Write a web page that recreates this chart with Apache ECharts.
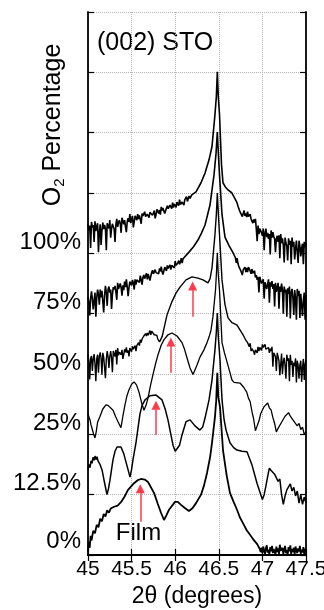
<!DOCTYPE html>
<html><head><meta charset="utf-8">
<script src="https://cdn.jsdelivr.net/npm/echarts/dist/echarts.min.js"></script>
<style>html,body{margin:0;padding:0;background:#fff}#c{width:324px;height:610px}</style>
</head><body><div id="c"></div>
<script>
const xTickLabels = ['45','45.5','46','46.5','47','47.5'];
const yTickLabels = ['0%','12.5%','25%','50%','75%','100%'];
const seriesNames = ['0%','12.5%','25%','50%','75%','100%'];

const s0 = [[45.00,0.06],[45.01,0.22],[45.02,0.12],[45.03,0.32],[45.04,0.24],[45.06,0.40],[45.08,0.36],[45.10,0.50],[45.12,0.46],[45.14,0.60],[45.16,0.56],[45.18,0.68],[45.20,0.64],[45.22,0.74],[45.24,0.70],[45.26,0.77],[45.28,0.74],[45.30,0.80],[45.32,0.77],[45.34,0.82],[45.36,0.82],[45.38,0.88],
[45.42,0.97],[45.459,1.08],[45.528,1.19],[45.57,1.24],[45.608,1.26],[45.65,1.25],[45.688,1.21],[45.757,1.03],[45.80,0.85],[45.837,0.70],[45.872,0.58],[45.90,0.66],[45.929,0.75],[45.998,0.88],[46.03,0.88],[46.067,0.83],[46.11,0.78],[46.158,0.73],[46.20,0.78],[46.239,0.86],[46.296,1.00],[46.33,1.15],[46.365,1.36],[46.40,1.62],[46.422,1.86],[46.456,2.29],[46.47,2.55],[46.483,3.02],[46.494,2.62],[46.514,2.45],[46.548,1.74],[46.59,1.32],[46.628,1.03],[46.67,0.88],[46.709,0.75],
[46.72,0.72],[46.74,0.63],[46.76,0.61],[46.78,0.52],[46.80,0.49],[46.82,0.41],[46.84,0.40],[46.86,0.33],[46.88,0.32],[46.90,0.25],[46.92,0.24],[46.94,0.18],
[46.96,0.18],[46.97,0.10],[46.98,0.05],[46.99,0.12],[47.00,0.03],[47.01,0.14],[47.02,0.07],[47.03,0.02],[47.04,0.11],[47.05,0.16],[47.06,0.04],[47.07,0.09],[47.08,0.01],[47.09,0.13],[47.10,0.06],[47.11,0.15],[47.12,0.03],[47.13,0.10],[47.14,0.08],[47.15,0.01],[47.16,0.14],[47.17,0.05],[47.18,0.11],[47.19,0.02],[47.20,0.17],[47.21,0.07],[47.22,0.04],[47.23,0.12],[47.24,0.02],[47.25,0.09],[47.26,0.15],[47.27,0.03],[47.28,0.08],[47.29,0.01],[47.30,0.13],[47.31,0.06],[47.32,0.16],[47.33,0.02],[47.34,0.10],[47.35,0.05],[47.36,0.12],[47.37,0.01],[47.38,0.14],[47.39,0.07],[47.40,0.03],[47.41,0.11],[47.42,0.06],[47.43,0.15],[47.44,0.02],[47.45,0.09],[47.46,0.04],[47.47,0.13],[47.48,0.01],[47.49,0.10],[47.50,0.05]];

const s1 = [[45.000,1.41],[45.012,1.50],[45.023,1.45],[45.035,1.56],[45.046,1.52],[45.058,1.62],[45.070,1.57],[45.081,1.64],[45.092,1.58],[45.103,1.63],[45.115,1.56],[45.127,1.58],[45.138,1.50],[45.150,1.48],[45.161,1.41],[45.195,1.16],[45.218,1.00],[45.235,1.10],[45.252,1.24],[45.287,1.58],[45.310,1.72],[45.333,1.79],[45.355,1.81],[45.378,1.79],[45.410,1.68],[45.436,1.54],[45.482,1.29],[45.500,1.42],[45.516,1.58],[45.550,1.86],[45.575,2.12],[45.596,2.34],[45.620,2.48],[45.654,2.57],[45.711,2.64],[45.780,2.65],[45.849,2.57],[45.885,2.42],[45.917,2.24],[45.950,2.00],[45.975,1.82],[46.000,1.72],[46.021,1.69],[46.050,1.82],[46.078,1.99],[46.124,2.21],[46.170,2.24],[46.227,2.14],[46.284,2.07],[46.315,2.12],[46.342,2.27],[46.388,2.57],[46.422,2.90],[46.456,3.40],[46.472,3.70],[46.483,4.01],[46.495,3.60],[46.514,3.23],[46.537,2.57],[46.560,2.25],[46.583,2.07],[46.628,1.86],[46.670,1.78],[46.709,1.74],[46.766,1.72],[46.823,1.71],[46.881,1.49],[46.938,1.19],[46.972,1.04],
[47.00,0.92],[47.02,1.00],[47.04,1.14],[47.06,1.30],[47.08,1.44],[47.10,1.40],[47.12,1.42],[47.14,1.34],[47.16,1.36],[47.18,1.22],[47.20,1.26],[47.22,1.00],[47.24,0.84],[47.26,0.98],[47.28,1.08],[47.30,1.06],[47.32,1.18],[47.34,1.06],[47.36,1.12],[47.38,0.98],[47.40,1.06],[47.42,0.86],[47.44,1.00],[47.46,0.84],[47.48,0.96],[47.50,0.86]];

const s2 = [[45.000,2.35],[45.012,2.28],[45.023,2.24],[45.034,2.16],[45.050,2.08],[45.065,2.00],[45.080,1.94],[45.095,2.05],[45.110,2.20],[45.138,2.30],[45.170,2.42],[45.206,2.49],[45.230,2.48],[45.252,2.45],[45.287,2.40],[45.315,2.30],[45.344,2.21],[45.378,2.11],[45.400,2.30],[45.424,2.49],[45.447,2.64],[45.470,2.74],[45.500,2.83],[45.528,2.87],[45.556,2.82],[45.585,2.70],[45.615,2.52],[45.642,2.40],[45.665,2.48],[45.688,2.60],[45.715,2.80],[45.745,2.99],[45.775,3.17],[45.803,3.32],[45.840,3.48],[45.872,3.57],[45.917,3.65],[45.963,3.68],[46.021,3.63],[46.078,3.52],[46.105,3.42],[46.135,3.27],[46.170,3.10],[46.204,2.99],[46.230,3.08],[46.250,3.15],[46.284,3.28],[46.330,3.40],[46.365,3.52],[46.390,3.62],[46.411,3.73],[46.433,3.95],[46.462,4.39],[46.474,4.70],[46.483,5.01],[46.494,4.65],[46.508,4.39],[46.537,3.52],[46.565,3.35],[46.594,3.20],[46.625,3.04],[46.651,2.90],[46.675,2.86],[46.697,2.85],[46.743,2.85],[46.785,2.78],
[46.82,2.70],[46.84,2.60],[46.86,2.54],[46.88,2.38],[46.90,2.25],[46.92,2.06],[46.94,2.14],[46.96,2.22],[46.98,2.34],[47.00,2.36],[47.02,2.46],[47.04,2.46],[47.06,2.52],[47.08,2.44],[47.10,2.40],[47.12,2.28],[47.14,2.18],[47.16,2.04],[47.18,2.10],[47.20,2.12],[47.22,2.20],[47.24,2.22],[47.26,2.30],[47.28,2.28],[47.30,2.36],[47.32,2.30],[47.34,2.30],[47.36,2.22],[47.38,2.22],[47.40,2.14],[47.42,2.18],[47.44,2.08],[47.46,2.12],[47.48,2.00],[47.50,2.04]];

const s3 = [[45.00,3.32],[45.01,3.20],[45.02,2.91],[45.03,3.26],[45.04,3.30],[45.05,3.05],[45.06,3.25],[45.07,3.33],[45.08,3.17],[45.09,2.88],[45.10,3.25],[45.11,3.32],[45.12,3.02],[45.13,3.29],[45.14,3.36],[45.15,3.26],[45.16,2.99],[45.17,3.35],[45.18,3.28],[45.19,3.30],[45.20,2.93],[45.21,3.24],[45.22,3.38],[45.23,3.29],[45.24,3.10],[45.25,3.29],[45.26,3.38],[45.27,3.27],[45.28,3.03],[45.29,3.38],[45.30,3.35],[45.31,3.29],[45.32,3.40],[45.33,3.16],[45.34,3.43],[45.35,3.31],
[45.36,3.36],[45.37,3.39],[45.38,3.32],[45.39,3.40],[45.40,3.25],[45.41,3.32],[45.42,3.41],[45.43,3.36],[45.44,3.44],[45.45,3.35],[45.46,3.39],[45.47,3.29],[45.48,3.43],[45.49,3.42],[45.50,3.37],[45.51,3.46],[45.52,3.41],[45.53,3.39],[45.54,3.47],[45.55,3.38],[45.56,3.47],[45.57,3.47],[45.58,3.52],[45.59,3.47],[45.60,3.57],
[45.61,3.52],[45.62,3.58],[45.63,3.55],[45.64,3.63],[45.65,3.61],[45.66,3.67],[45.67,3.63],[45.68,3.68],[45.69,3.64],[45.70,3.68],[45.71,3.72],[45.72,3.65],[45.73,3.71],[45.74,3.68],[45.75,3.73],[45.76,3.65],[45.77,3.68],[45.78,3.63],[45.79,3.64],[45.80,3.58],[45.81,3.59],[45.82,3.53],[45.835,3.54],[45.85,3.62],
[45.860,3.68],[45.906,3.98],[45.963,4.20],[46.009,4.34],[46.055,4.44],[46.124,4.56],[46.193,4.61],[46.261,4.59],[46.319,4.56],[46.376,4.51],[46.40,4.58],[46.422,4.76],[46.456,5.31],[46.472,5.65],[46.483,6.00],[46.495,5.65],[46.508,5.31],[46.537,4.56],[46.571,4.15],[46.606,3.93],[46.651,3.85],[46.709,3.81],[46.778,3.65],[46.81,3.56],
[46.83,3.52],[46.84,3.52],[46.85,3.45],[46.86,3.51],[46.87,3.38],[46.88,3.42],[46.89,3.44],[46.90,3.37],[46.91,3.32],[46.92,3.40],[46.93,3.39],[46.94,3.35],[46.95,3.45],[46.96,3.38],[46.97,3.44],[46.98,3.42],[46.99,3.39],[47.00,3.49],[47.01,3.44],[47.02,3.41],[47.03,3.49],[47.04,3.41],[47.05,3.38],[47.06,3.43],[47.07,3.44],[47.08,3.35],[47.09,3.42],[47.10,3.38],
[47.11,3.45],[47.12,3.12],[47.13,3.35],[47.14,3.38],[47.15,3.29],[47.16,3.05],[47.17,3.35],[47.18,3.33],[47.19,3.22],[47.20,2.98],[47.21,3.16],[47.22,3.34],[47.23,3.00],[47.24,3.20],[47.25,3.27],[47.26,3.14],[47.27,2.92],[47.28,3.32],[47.29,3.22],[47.30,3.26],[47.31,2.88],[47.32,3.32],[47.33,3.15],[47.34,3.22],[47.35,2.95],[47.36,3.19],[47.37,3.13],[47.38,3.26],[47.39,2.86],[47.40,3.22],[47.41,3.14],[47.42,2.92],[47.43,3.15],[47.44,3.22],[47.45,2.87],[47.46,3.11],[47.47,3.25],[47.48,2.90],[47.49,3.17],[47.50,3.23]];

const s4 = [[45.00,4.28],[45.01,4.19],[45.02,3.97],[45.03,4.25],[45.04,4.37],[45.05,4.25],[45.06,4.07],[45.07,4.21],[45.08,4.35],[45.09,3.95],[45.10,4.26],[45.11,4.40],[45.12,4.32],[45.13,4.15],[45.14,4.40],[45.15,4.27],[45.16,4.38],[45.17,4.36],[45.18,4.02],[45.19,4.31],[45.20,4.46],[45.21,4.35],[45.22,4.13],[45.23,4.40],[45.24,4.45],[45.25,4.35],[45.26,4.40],[45.27,4.08],[45.28,4.32],[45.29,4.44],[45.30,4.40],[45.31,4.46],[45.32,4.36],[45.33,4.23],[45.34,4.51],[45.35,4.41],[45.36,4.40],[45.37,4.50],[45.38,4.43],[45.39,4.30],[45.40,4.47],[45.41,4.39],[45.42,4.53],[45.43,4.44],[45.44,4.57],[45.45,4.44],
[45.46,4.29],[45.47,4.43],[45.48,4.53],[45.49,4.52],[45.50,4.47],[45.51,4.56],[45.52,4.51],[45.53,4.40],[45.54,4.57],[45.55,4.48],[45.56,4.56],[45.57,4.55],[45.58,4.58],[45.59,4.52],[45.60,4.63],[45.61,4.56],[45.62,4.48],[45.63,4.60],[45.64,4.64],[45.65,4.58],[45.66,4.61],[45.67,4.67],[45.68,4.57],[45.69,4.66],[45.70,4.63],[45.71,4.55],[45.72,4.62],[45.73,4.68],[45.74,4.72],[45.75,4.66],[45.76,4.65],[45.77,4.73],[45.78,4.68],[45.79,4.70],[45.80,4.71],[45.81,4.66],[45.82,4.75],[45.83,4.70],[45.84,4.78],[45.85,4.69],[45.86,4.65],[45.87,4.67],[45.88,4.77],[45.89,4.76],[45.90,4.71],[45.91,4.80],[45.92,4.75],[45.93,4.73],[45.94,4.81],[45.95,4.73],[45.96,4.80],[45.97,4.79],[45.98,4.83],[45.99,4.76],[46.00,4.87],[46.01,4.80],[46.02,4.78],[46.03,4.84],[46.04,4.88],[46.05,4.82],[46.06,4.86],[46.07,4.92],[46.08,4.84],[46.09,4.91],[46.10,4.89],
[46.158,5.02],[46.21,5.11],[46.261,5.22],[46.30,5.33],[46.342,5.47],[46.399,5.80],[46.445,6.30],[46.468,6.65],[46.483,7.01],[46.495,6.65],[46.508,6.30],[46.537,5.64],[46.571,5.27],[46.62,5.12],[46.663,5.01],[46.69,4.93],
[46.70,4.84],[46.71,4.92],[46.72,4.83],[46.73,4.78],[46.74,4.81],[46.75,4.72],[46.76,4.72],[46.77,4.64],[46.78,4.73],[46.79,4.71],[46.80,4.77],[46.81,4.69],[46.82,4.76],[46.83,4.69],[46.84,4.77],[46.85,4.77],[46.86,4.71],[46.87,4.66],[46.88,4.74],[46.89,4.67],[46.90,4.67],[46.91,4.71],[46.92,4.60],[46.93,4.64],[46.94,4.56],
[46.95,4.61],[46.96,4.35],[46.97,4.61],[46.98,4.62],[46.99,4.50],[47.00,4.48],[47.01,4.57],[47.02,4.25],[47.03,4.52],[47.04,4.55],[47.05,4.41],[47.06,4.49],[47.07,4.57],[47.08,4.18],[47.09,4.52],[47.10,4.45],[47.11,4.54],[47.12,4.41],[47.13,4.49],[47.14,4.12],[47.15,4.51],[47.16,4.36],[47.17,4.44],[47.18,4.51],[47.19,4.08],[47.20,4.45],[47.21,4.36],[47.22,4.50],[47.23,4.39],[47.24,4.00],[47.25,4.45],[47.26,4.35],[47.27,4.40],[47.28,3.95],[47.29,4.42],[47.30,4.33],[47.31,4.45],[47.32,3.92],[47.33,4.36],[47.34,4.41],[47.35,4.26],[47.36,3.98],[47.37,4.39],[47.38,4.26],[47.39,3.90],[47.40,4.41],[47.41,4.29],[47.42,4.38],[47.43,3.93],[47.44,4.33],[47.45,4.36],[47.46,3.96],[47.47,4.22],[47.48,4.35],[47.49,3.90],[47.50,4.31]];

const s5 = [[45.00,5.49],[45.01,5.38],[45.02,5.46],[45.03,5.09],[45.04,5.52],[45.05,5.43],[45.06,5.47],[45.07,5.19],[45.08,5.53],[45.09,5.37],[45.10,5.44],[45.11,5.50],[45.12,5.02],[45.13,5.35],[45.14,5.48],[45.15,5.14],[45.16,5.38],[45.17,5.51],[45.18,5.40],[45.19,5.47],[45.20,5.41],[45.21,5.05],[45.22,5.50],[45.23,5.45],[45.24,5.41],[45.25,5.55],[45.26,5.26],[45.27,5.41],[45.28,5.49],[45.29,5.52],[45.30,5.40],[45.31,5.19],[45.32,5.48],[45.33,5.57],[45.34,5.44],[45.35,5.51],[45.36,5.55],[45.37,5.49],[45.38,5.34],[45.39,5.59],[45.40,5.57],[45.41,5.48],[45.42,5.55],[45.43,5.44],[45.44,5.35],[45.45,5.53],[45.46,5.58],[45.47,5.52],[45.48,5.65],[45.49,5.50],[45.50,5.57],
[45.51,5.62],[45.52,5.43],[45.53,5.52],[45.54,5.62],[45.55,5.60],[45.56,5.55],[45.57,5.65],[45.58,5.57],[45.59,5.63],[45.60,5.60],[45.61,5.49],[45.62,5.66],[45.63,5.62],[45.64,5.60],[45.65,5.69],[45.66,5.61],[45.67,5.60],[45.68,5.65],[45.69,5.68],[45.70,5.59],[45.71,5.68],[45.72,5.65],[45.73,5.71],[45.74,5.63],[45.75,5.67],[45.76,5.71],[45.77,5.58],[45.78,5.64],[45.79,5.73],[45.80,5.73],[45.81,5.66],[45.82,5.72],[45.83,5.64],[45.84,5.77],[45.85,5.71],[45.86,5.75],[45.87,5.70],[45.88,5.66],[45.89,5.69],[45.90,5.75],[45.91,5.79],[45.92,5.74],[45.93,5.71],[45.94,5.80],[45.95,5.79],[45.96,5.74],[45.97,5.84],[45.98,5.76],[45.99,5.82],[46.00,5.79],[46.01,5.76],[46.02,5.85],[46.03,5.82],[46.04,5.79],[46.05,5.89],[46.06,5.81],[46.07,5.80],[46.08,5.85],[46.09,5.88],[46.10,5.80],[46.11,5.89],[46.12,5.87],[46.13,5.94],[46.14,5.86],[46.15,5.91],[46.16,5.95],[46.17,5.91],[46.18,5.89],[46.19,5.97],[46.20,5.96],
[46.239,6.02],[46.296,6.17],[46.342,6.33],[46.388,6.55],[46.422,6.77],[46.456,7.30],[46.472,7.60],[46.483,8.01],[46.494,7.60],[46.508,7.30],[46.531,6.47],[46.548,6.17],[46.575,6.10],[46.606,6.05],[46.651,6.00],[46.68,5.92],[46.709,5.84],
[46.72,5.78],[46.73,5.81],[46.74,5.70],[46.75,5.73],[46.76,5.73],[46.77,5.61],[46.78,5.66],[46.79,5.71],[46.80,5.62],[46.81,5.66],[46.82,5.60],[46.83,5.69],[46.84,5.61],[46.85,5.59],[46.86,5.65],[46.87,5.57],[46.88,5.58],[46.89,5.50],[46.90,5.56],
[46.91,5.51],[46.92,5.57],[46.93,5.41],[46.94,5.20],[46.95,5.46],[46.96,5.32],[46.97,5.41],[46.98,5.43],[46.99,5.34],[47.00,5.29],[47.01,5.41],[47.02,5.05],[47.03,5.33],[47.04,5.41],[47.05,5.27],[47.06,5.34],[47.07,5.24],[47.08,5.32],[47.09,4.98],[47.10,5.38],[47.11,5.26],[47.12,5.35],[47.13,5.28],[47.14,5.24],[47.15,5.02],[47.16,5.24],[47.17,5.29],[47.18,5.19],[47.19,5.30],[47.20,4.92],[47.21,5.32],[47.22,5.17],[47.23,5.25],[47.24,5.13],[47.25,4.85],[47.26,5.26],[47.27,5.17],[47.28,5.12],[47.29,4.88],[47.30,5.25],[47.31,5.14],[47.32,5.21],[47.33,4.82],[47.34,5.26],[47.35,5.11],[47.36,5.19],[47.37,4.90],[47.38,5.07],[47.39,5.21],[47.40,5.24],[47.41,4.84],[47.42,5.21],[47.43,5.12],[47.44,4.95],[47.45,5.09],[47.46,5.16],[47.47,4.82],[47.48,5.19],[47.49,5.10],[47.50,5.17]];

const arrowX = [45.60, 45.78, 45.95, 46.20];
const arrowFrom = [0.55, 1.99, 3.02, 3.95];
const arrowTo = [1.10, 2.48, 3.53, 4.46];

const FONT = 'Liberation Sans, Arial, Helvetica, sans-serif';
const chart = echarts.init(document.getElementById('c'), null, {renderer: 'canvas'});
const allData = [s0, s1, s2, s3, s4, s5];
const lineWidths = [1.8, 1.5, 1.3, 1.4, 1.6, 1.6];

const series = allData.map((d, i) => ({
  name: seriesNames[i], type: 'line', data: d, showSymbol: false, symbol: 'none',
  lineStyle: {color: '#000', width: lineWidths[i]}, silent: true, z: 3, animation: false
}));
series.push({
  type: 'line', data: [], silent: true, animation: false,
  markLine: {
    silent: true, symbol: ['none', 'triangle'], symbolSize: 9, animation: false,
    label: {show: false},
    lineStyle: {color: '#ff3b4b', width: 1.5, type: 'solid'},
    itemStyle: {color: '#ff2a3c'},
    emphasis: {disabled: true},
    data: arrowX.map((x, i) => [{coord: [x, arrowFrom[i]]}, {coord: [x, arrowTo[i]]}])
  }
});

const axisLineStyle = {show: true, lineStyle: {color: '#000', width: 1.8}};
chart.setOption({
  animation: false,
  backgroundColor: '#fff',
  grid: {left: 88, right: 18, top: 12, bottom: 55, containLabel: false, outerBoundsMode: 'none'},
  xAxis: [{
    type: 'value', min: 45, max: 47.5, interval: 0.5, position: 'bottom',
    axisLine: axisLineStyle, axisTick: {show: true, inside: true, length: 6, lineStyle: {color: '#000', width: 1.2}},
    axisLabel: {fontSize: 21, color: '#000', fontFamily: FONT, margin: 4,
      formatter: v => { const k = Math.round((v - 45) / 0.5); return xTickLabels[k] || ''; }},
    splitLine: {show: true, lineStyle: {color: '#b5b5b5', type: 'dotted', width: 1}},
    name: '2θ (degrees)', nameLocation: 'middle', nameGap: 30,
    nameTextStyle: {fontSize: 23, color: '#000', fontFamily: FONT}
  }, {
    type: 'value', min: 45, max: 47.5, interval: 0.5, position: 'top',
    axisLine: axisLineStyle, axisTick: {show: true, inside: true, length: 6, lineStyle: {color: '#000', width: 1.2}},
    axisLabel: {show: false}, splitLine: {show: false}
  }],
  yAxis: [{
    type: 'value', min: 0, max: 9, interval: 1, position: 'left',
    axisLine: axisLineStyle, axisTick: {show: true, inside: true, length: 6, lineStyle: {color: '#000', width: 1.2}},
    axisLabel: {fontSize: 24, color: '#000', fontFamily: FONT, margin: 7, verticalAlign: 'bottom', lineHeight: 22,
      formatter: v => { const l = yTickLabels[v]; if (l === undefined) return ''; return v === 0 ? '{z|' + l + '}' : l; },
      rich: {z: {fontSize: 24, fontFamily: FONT, color: '#000', lineHeight: 22, padding: [0, 0, 5, 0]}}},
    splitLine: {show: true, lineStyle: {color: '#b5b5b5', type: 'dotted', width: 1}}
  }, {
    type: 'value', min: 0, max: 9, interval: 1, position: 'right',
    axisLine: axisLineStyle, axisTick: {show: true, inside: true, length: 6, lineStyle: {color: '#000', width: 1.2}},
    axisLabel: {show: false}, splitLine: {show: false}
  }],
  graphic: [
    {type: 'text', left: 97, top: 31, silent: true,
      style: {text: '(002) STO', font: '25px ' + FONT, fill: '#000'}},
    {type: 'text', x: 138.5, y: 533, silent: true,
      style: {text: 'Film', font: '24px ' + FONT, fill: '#000', align: 'center', verticalAlign: 'middle'}},
    {type: 'text', x: 53, y: 125, rotation: Math.PI / 2, silent: true,
      style: {text: '{a|O}{b|2}{a| Percentage}', align: 'center', verticalAlign: 'middle',
        rich: {a: {fontSize: 25, fontFamily: FONT, fill: '#000', color: '#000', lineHeight: 28},
               b: {fontSize: 15, fontFamily: FONT, fill: '#000', color: '#000', lineHeight: 28, verticalAlign: 'bottom', padding: [10, 0, 0, 0]}}}}
  ],
  series: series
});
</script></body></html>
